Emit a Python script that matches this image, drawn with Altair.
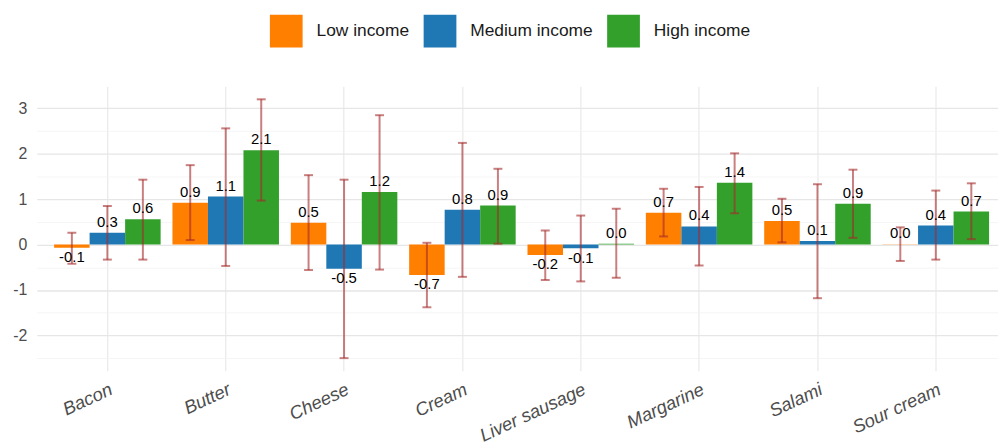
import altair as alt
import pandas as pd

categories = ["Bacon", "Butter", "Cheese", "Cream", "Liver sausage", "Margarine", "Salami", "Sour cream"]
groups = ["Low income", "Medium income", "High income"]
colors = ["#ff7f00", "#1f78b4", "#33a02c"]

low = [-0.07, 0.92, 0.48, -0.67, -0.23, 0.70, 0.52, 0.01]
low_lo = [-0.42, 0.10, -0.56, -1.38, -0.78, 0.18, 0.05, -0.36]
low_hi = [0.26, 1.75, 1.53, 0.04, 0.31, 1.23, 1.01, 0.38]

med = [0.26, 1.06, -0.53, 0.77, -0.08, 0.40, 0.08, 0.42]
med_lo = [-0.33, -0.47, -2.50, -0.71, -0.81, -0.46, -1.18, -0.33]
med_hi = [0.85, 2.56, 1.43, 2.24, 0.64, 1.27, 1.33, 1.19]

high = [0.56, 2.08, 1.16, 0.86, 0.02, 1.36, 0.90, 0.73]
high_lo = [-0.33, 0.97, -0.55, 0.02, -0.73, 0.69, 0.15, 0.12]
high_hi = [1.43, 3.20, 2.85, 1.67, 0.79, 2.01, 1.65, 1.35]

y_ticks = [-2.5, -2, -1.5, -1, -0.5, 0, 0.5, 1, 1.5, 2, 2.5, 3]

rows = []
for g, vals, los, his in [
    ("Low income", low, low_lo, low_hi),
    ("Medium income", med, med_lo, med_hi),
    ("High income", high, high_lo, high_hi),
]:
    for c, v, lo, hi in zip(categories, vals, los, his):
        rows.append({"food": c, "group": g, "value": v, "lo": lo, "hi": hi,
                     "label": f"{v:.1f}"})
df = pd.DataFrame(rows)

FONT = "Liberation Sans"

x_enc = alt.X(
    "food:N",
    sort=categories,
    title=None,
    scale=alt.Scale(paddingInner=0.1, paddingOuter=0.111, align=0.66),
    axis=alt.Axis(
        bandPosition=0.5,
        labelAngle=335,
        labelAlign="right",
        labelBaseline="top",
        labelFontStyle="italic",
        labelFontSize=18.5,
        labelColor="#4d4d4d",
        labelFont=FONT,
        labelPadding=9,
        ticks=False,
        domain=False,
        grid=True,
        gridColor="#ebebeb",
        gridWidth=1.3,
    ),
)
y_scale = alt.Scale(domain=[-2.78, 3.49], nice=False, zero=False)
y_axis = alt.Axis(
    values=y_ticks,
    format=".0f",
    labelExpr="datum.value % 1 === 0 ? replace(datum.label, '\u2212', '-') : ''",
    labelFontSize=16,
    labelColor="#4d4d4d",
    labelFont=FONT,
    labelPadding=10,
    ticks=False,
    domain=False,
    grid=True,
    gridColor={"condition": {"test": "datum.value % 1 === 0", "value": "#e6e6e6"}, "value": "#f2f2f2"},
    gridWidth={"condition": {"test": "datum.value % 1 === 0", "value": 1.3}, "value": 0.8},
)
y_enc = alt.Y("value:Q", scale=y_scale, title=None, axis=y_axis)
xoff = alt.XOffset("group:N", sort=groups, scale=alt.Scale(paddingInner=0, paddingOuter=0))

base = alt.Chart(df)

bars = base.mark_bar().encode(
    x=x_enc,
    xOffset=xoff,
    y=y_enc,
    y2=alt.datum(0),
    color=alt.Color(
        "group:N",
        sort=groups,
        scale=alt.Scale(domain=groups, range=colors),
        legend=alt.Legend(
            title=None,
            orient="none",
            legendX=235,
            legendY=-72,
            direction="horizontal",
            symbolType="square",
            symbolSize=1089,
            symbolStrokeWidth=0,
            symbolOpacity=1,
            labelFontSize=17.5,
            labelFont=FONT,
            labelColor="#1a1a1a",
            labelOffset=14,
            columnPadding=14,
            padding=0,
        ),
    ),
)

err_color = "#a52a2a"
err = base.mark_rule(color=err_color, opacity=0.6, strokeWidth=2).encode(
    x=alt.X("food:N", sort=categories),
    xOffset=xoff,
    y=alt.Y("lo:Q", scale=y_scale, title=None, axis=y_axis),
    y2="hi:Q",
)
cap_lo = base.mark_tick(color=err_color, opacity=0.6, thickness=2, size=9).encode(
    x=alt.X("food:N", sort=categories),
    xOffset=xoff,
    y=alt.Y("lo:Q", scale=y_scale, title=None, axis=y_axis),
)
cap_hi = base.mark_tick(color=err_color, opacity=0.6, thickness=2, size=9).encode(
    x=alt.X("food:N", sort=categories),
    xOffset=xoff,
    y=alt.Y("hi:Q", scale=y_scale, title=None, axis=y_axis),
)

txt_pos = base.transform_filter("datum.value >= 0").mark_text(
    font=FONT, fontSize=15, color="#000000", dy=-11, baseline="middle"
).encode(
    x=alt.X("food:N", sort=categories),
    xOffset=xoff,
    y=alt.Y("value:Q", scale=y_scale, title=None, axis=y_axis),
    text="label:N",
)
txt_neg = base.transform_filter("datum.value < 0").mark_text(
    font=FONT, fontSize=15, color="#000000", dy=9.5, baseline="middle"
).encode(
    x=alt.X("food:N", sort=categories),
    xOffset=xoff,
    y=alt.Y("value:Q", scale=y_scale, title=None, axis=y_axis),
    text="label:N",
)

chart = (
    alt.layer(bars, err, cap_lo, cap_hi, txt_pos, txt_neg)
    .properties(
        width=969,
        height=287,
        autosize="none",
        padding={"left": 29, "top": 77, "right": 0, "bottom": 75},
        background="white",
    )
    .configure_view(stroke=None)
)

chart.save("out.html", embed_options={"renderer": "svg", "actions": False})
